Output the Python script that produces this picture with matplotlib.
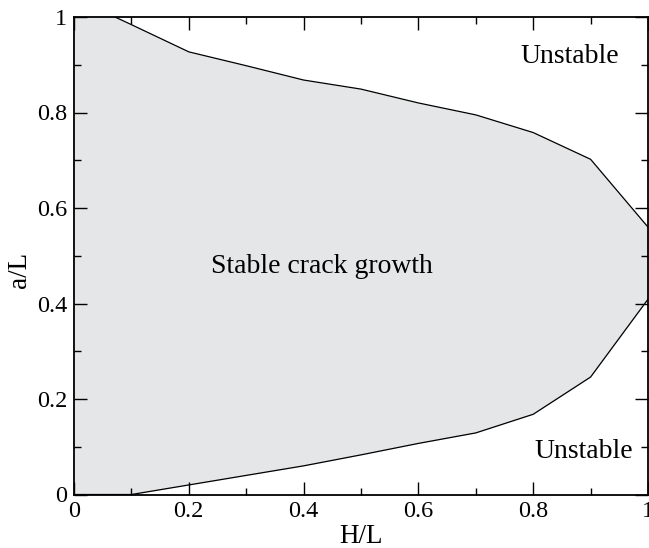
import matplotlib
matplotlib.use("Agg")
import matplotlib.pyplot as plt
from matplotlib.ticker import MultipleLocator

plt.rcParams['font.family'] = ['Liberation Serif', 'DejaVu Serif']

hl = [0.0, 0.1, 0.2, 0.3, 0.4, 0.5, 0.6, 0.7, 0.8, 0.9, 1.0]
upper = [1.04, 0.984, 0.927, 0.898, 0.868, 0.849, 0.820, 0.795, 0.758, 0.702, 0.560]
lower = [0.0, 0.0, 0.020, 0.040, 0.060, 0.083, 0.107, 0.129, 0.168, 0.246, 0.409]

fig = plt.figure(figsize=(6.49, 5.48), dpi=100)
ax = fig.add_axes([74/649, (548-494.5)/548, (648-74)/649, (494.5-17)/548])

ax.fill_between(hl, lower, upper, color='#e5e6e8', linewidth=0)
ax.plot(hl, upper, color='black', lw=0.9)
ax.plot(hl, lower, color='black', lw=0.9)

ax.set_xlim(0, 1)
ax.set_ylim(0, 1)
ax.xaxis.set_major_locator(MultipleLocator(0.2))
ax.xaxis.set_minor_locator(MultipleLocator(0.1))
ax.yaxis.set_major_locator(MultipleLocator(0.2))
ax.yaxis.set_minor_locator(MultipleLocator(0.1))

def fmt(v, p):
    if abs(v) < 1e-9:
        return '0'
    if abs(v - 1) < 1e-9:
        return '1'
    return f'{v:.1f}'

ax.xaxis.set_major_formatter(plt.FuncFormatter(fmt))
ax.yaxis.set_major_formatter(plt.FuncFormatter(fmt))
ax.tick_params(which='both', direction='in', top=True, right=True, labelsize=17.5, pad=5)
ax.tick_params(which='major', length=9.6, width=1)
ax.tick_params(which='minor', length=4.8, width=1)
for s in ax.spines.values():
    s.set_linewidth(1.3)

ax.set_xlabel('H/L', fontsize=19.5, labelpad=1)
ax.set_ylabel('a/L', fontsize=19.5)
ax.yaxis.set_label_coords(-0.073, 0.47)

ax.text(0.239, 0.464, 'Stable crack growth', fontsize=20, ha='left', va='baseline')
ax.text(0.777, 0.904, 'Unstable', fontsize=20, ha='left', va='baseline')
ax.text(0.803, 0.0764, 'Unstable', fontsize=20, ha='left', va='baseline')

fig.savefig('out.png', dpi=100)
